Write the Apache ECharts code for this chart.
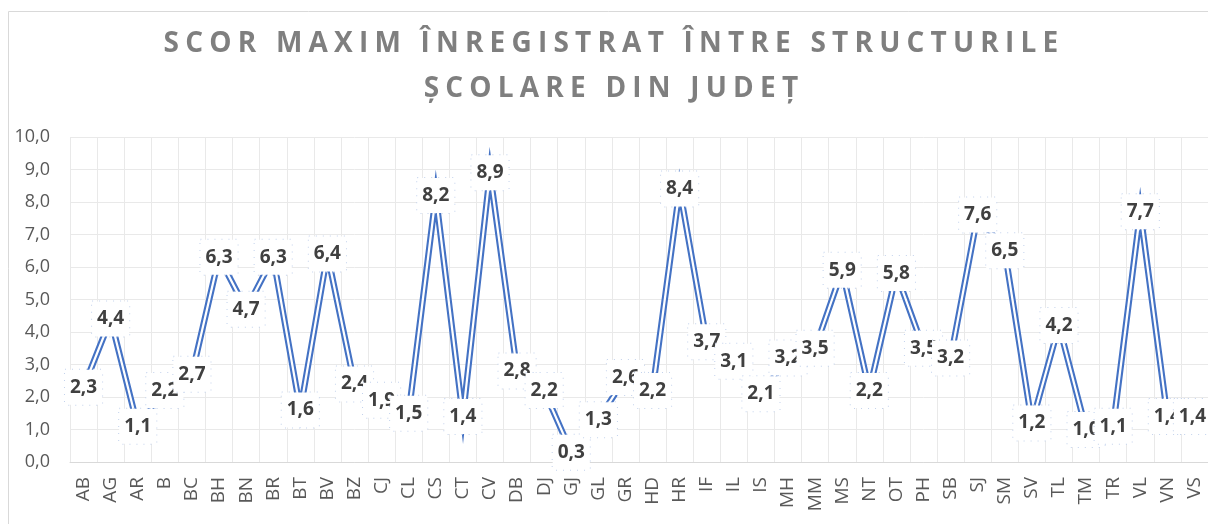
<!DOCTYPE html>
<html>
<head>
<meta charset="utf-8">
<script src="https://cdn.jsdelivr.net/npm/echarts@6/dist/echarts.min.js"></script>
<style>
  html, body { margin: 0; padding: 0; background: #fff; overflow: hidden; }
  #wrap { position: relative; width: 1208px; height: 524px; }
  #chart { width: 1208px; height: 524px; }
  .chart-title {
    position: absolute;
    left: 10px;
    width: 1208px;
    text-align: center;
    font-family: 'Open Sans', sans-serif;
    font-weight: 700;
    font-size: 28px;
    letter-spacing: 6.2px;
    color: #7f7f7f;
    line-height: 45px;
    top: 19px;
    pointer-events: none;
  }
</style>
</head>
<body>
<div id="wrap">
  <div id="chart"></div>
  <div class="chart-title">SCOR MAXIM ÎNREGISTRAT ÎNTRE STRUCTURILE<br>ȘCOLARE DIN JUDEȚ</div>
</div>
<script>
// ============ Data ============
const judete = [
  'AB', 'AG', 'AR', 'B', 'BC', 'BH', 'BN', 'BR', 'BT', 'BV', 'BZ', 'CJ', 'CL', 'CS',
  'CT', 'CV', 'DB', 'DJ', 'GJ', 'GL', 'GR', 'HD', 'HR', 'IF', 'IL', 'IS', 'MH', 'MM',
  'MS', 'NT', 'OT', 'PH', 'SB', 'SJ', 'SM', 'SV', 'TL', 'TM', 'TR', 'VL', 'VN', 'VS'
]
const scorMaxim = [
  2.3, 4.4, 1.1, 2.2, 2.7, 6.3, 4.7, 6.3, 1.6, 6.4, 2.4, 1.9, 1.5, 8.2,
  1.4, 8.9, 2.8, 2.2, 0.3, 1.3, 2.6, 2.2, 8.4, 3.7, 3.1, 2.1, 3.2, 3.5,
  5.9, 2.2, 5.8, 3.5, 3.2, 7.6, 6.5, 1.2, 4.2, 1.0, 1.1, 7.7, 1.4, 1.4
]
const yMin = 0
const yMax = 10
const yStep = 1

// comma as decimal separator
const fmt = (v) => Number(v).toFixed(1).replace('.', ',')

const chart = echarts.init(document.getElementById('chart'))

chart.setOption({
  animation: false,
  textStyle: { fontFamily: 'Open Sans' },
  graphic: [
    {
      type: 'rect',
      shape: { x: 8.5, y: 11.5, width: 1300, height: 600 },
      style: { fill: 'none', stroke: '#d9d9d9', lineWidth: 1 },
      silent: true,
    },
  ],
  grid: {
    left: 70,
    top: 137,
    width: 1147,
    height: 325,
  },
  xAxis: {
    type: 'category',
    data: judete,
    boundaryGap: true,
    axisLine: { show: true, lineStyle: { color: '#d9d9d9', width: 1 } },
    axisTick: { show: false },
    splitLine: { show: true, lineStyle: { color: '#e9e9e9', width: 1 } },
    axisLabel: {
      rotate: 90,
      interval: 0,
      margin: 15,
      fontSize: 19,
      color: '#595959',
      fontFamily: 'Open Sans',
    },
  },
  yAxis: {
    type: 'value',
    min: yMin,
    max: yMax,
    interval: yStep,
    axisLine: { show: false },
    axisTick: { show: false },
    splitLine: { show: true, lineStyle: { color: '#e9e9e9', width: 1 } },
    axisLabel: {
      margin: 20,
      fontSize: 18,
      color: '#595959',
      fontFamily: 'Open Sans',
      formatter: fmt,
    },
  },
  series: [
    {
      // outer blue stroke of the double line
      type: 'line',
      data: scorMaxim,
      z: 2,
      symbol: 'none',
      silent: true,
      lineStyle: { color: '#4472c4', width: 6.4, join: 'miter', miterLimit: 10 },
    },
    {
      // inner white stroke + data labels
      type: 'line',
      data: scorMaxim,
      z: 3,
      symbol: 'circle',
      symbolSize: 1,
      itemStyle: { color: '#ffffff' },
      lineStyle: { color: '#ffffff', width: 2.2, join: 'miter', miterLimit: 10 },
      label: {
        show: true,
        position: 'inside',
        formatter: (p) => fmt(p.value),
        fontFamily: 'Open Sans',
        fontWeight: 'bold',
        fontSize: 19,
        lineHeight: 20,
        color: '#404040',
        backgroundColor: '#ffffff',
        borderColor: '#c3d2ec',
        borderWidth: 1,
        borderType: [1, 6],
        padding: [8, 5, 7, 5],
      },
      labelLayout: (p) => {
        const over = p.labelRect.x + p.labelRect.width - 1212
        return over > 0 ? { dx: -over } : {}
      },
    },
  ],
})
</script>
</body>
</html>
